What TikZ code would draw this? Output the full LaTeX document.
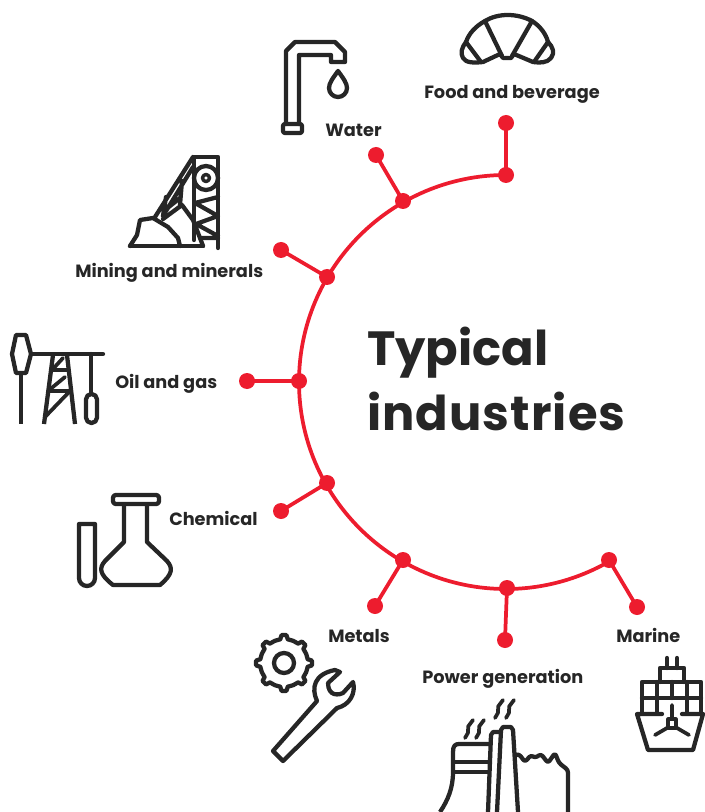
\documentclass[tikz,border=0pt]{standalone}
\usepackage{fontspec}
\setmainfont{Poppins}
\definecolor{abbred}{HTML}{ED1C2E}
\definecolor{ink}{HTML}{262626}
\tikzset{
 dot/.style={circle,fill=abbred,inner sep=0pt,minimum size=16pt*0.75},
 spoke/.style={draw=abbred,line width=2.8pt},
 icon/.style={draw=ink,line width=3.2pt,line join=round,line cap=round},
 lab/.style={anchor=base west,inner sep=0pt,text=ink,font=\fontsize{13.3pt}{15pt}\selectfont\bfseries},
 ttl/.style={anchor=base west,inner sep=0pt,text=ink,font=\fontsize{36pt}{40pt}\selectfont\bfseries},
}
\begin{document}
\begin{tikzpicture}[x=0.75pt,y=-0.75pt]
\useasboundingbox (0,0) rectangle (704,812);
% hub dots and free ends
\foreach \n/\x/\y in {a/506/175,b/403/201,c/327/277,d/299/381,e/327/483,f/403/560,g/507/588,h/609/560,
 A/506/123,B/376/155,C/281/250,D/247/381,E/281/511,F/375/606,G/505/640,H/637/607}
 {\node[dot] (\n) at (\x,\y) {};}
\draw[spoke] (a.center) arc[start angle=270,end angle=60,radius=207];
\foreach \p/\q in {a/A,b/B,c/C,d/D,e/E,f/F,g/G,h/H}{\draw[spoke] (\p.center) -- (\q.center);}
% labels
\node[lab] (food) at (424,99) {Food and beverage};
\node[lab] (water) at (325,137) {Water};
\node[lab] (mining) at (75,278) {Mining and minerals};
\node[lab] (oil) at (115,388) {Oil and gas};
\node[lab] (chem) at (169,525) {Chemical};
\node[lab] (metals) at (328,642) {Metals};
\node[lab] (power) at (422,683) {Power generation};
\node[lab] (marine) at (616,642) {Marine};
\node[ttl] (t1) at (367,365) {Typical};
\node[ttl] (t2) at (367,430) {\addfontfeature{LetterSpace=2.2}industries};
% faucet
\draw[icon] (286,124) -- (286,51) -- (295,42) -- (335,42) -- (345,52) -- (345,62) -- (331,62) -- (331,55) -- (299,55) -- (299,124);
\draw[icon,rounded corners=1.5pt] (283,124) rectangle (302,133);
\draw[icon] (338,71) .. controls (333,78) and (329,83) .. (329,88) arc[start angle=180,end angle=0,radius=9] .. controls (347,83) and (343,78) .. cycle;
% croissant
\draw[icon] (485,21) .. controls (498,13) and (517,13) .. (532,21) .. controls (540,26) and (546,34) .. (548,42) .. controls (553,47) and (555,53) .. (551,58) .. controls (547,63) and (540,63) .. (533,62) -- (514,54) -- (511,58) -- (503,58) -- (500,54) -- (483,62) .. controls (474,63) and (466,63) .. (463,58) .. controls (460,53) and (462,47) .. (466,42) .. controls (469,33) and (476,26) .. cycle;
\draw[icon] (485,21) -- (502,56) (532,21) -- (512,56) (466,42) -- (481,62) (548,42) -- (534,62);
% mine
\draw[icon] (194,240) -- (194,157) -- (218,157) -- (218,248);
\draw[icon] (206,178) circle[radius=12];
\draw[icon,line width=2.6pt] (206,178) circle[radius=3.5];
\draw[icon] (218,197) -- (195,203) -- (218,216) -- (196,224) -- (218,236) (200,238) -- (218,238);
\draw[icon] (193,157) -- (155,217) (193,167) -- (163,216) (182,181) -- (180,205) (180,198) -- (165,210) (166,197) -- (163,216);
\draw[icon] (163,219) -- (182,205) -- (193,220) -- (200,238) -- (203,246);
\draw[icon] (130,246) -- (137,235) -- (140,220) -- (153,218) -- (168,227) -- (178,238) -- (180,246);
\draw[icon] (130,246) -- (203,246);
% oil pump
\draw[icon] (16,335) -- (26,335) -- (31,354) -- (26,373) -- (16,373) -- (12,354) -- cycle;
\draw[icon,line cap=butt] (21,373) -- (21,424);
\draw[icon] (31,354) -- (103,354);
\draw[icon] (91,354) -- (91,393);
\draw[icon,line cap=butt] (53,355) -- (44,424) (67,355) -- (75,424);
\draw[icon,line width=2.8pt] (63,358) -- (52,370) -- (68,370) (65,377) -- (48,391) -- (70,391) -- (45,417);
\draw[icon,rounded corners=4pt] (86,394) rectangle (97,423);
% flask and tube
\draw[icon,rounded corners=2pt] (113,495) rectangle (159,504);
\draw[icon] (124,505) -- (124,542) -- (105,561) .. controls (99,568) and (99,574) .. (113,585) -- (160,585) .. controls (173,574) and (173,568) .. (167,561) -- (147,542) -- (147,505);
\draw[icon] (79,524) -- (95,524) -- (95,578) arc[start angle=0,end angle=180,radius=8] -- cycle;
% gear
\draw[icon] (284,663) circle[radius=10];
\draw[icon]
 \foreach \a in {0,45,...,315}{
  ([shift={(284,663)}]\a-9:24) -- ([shift={(284,663)}]\a-5:28) -- ([shift={(284,663)}]\a+5:28) -- ([shift={(284,663)}]\a+9:24)
  ([shift={(284,663)}]\a+9:24) arc[start angle=\a+9,end angle=\a+36,radius=24]
 };
% wrench
\draw[icon] (273,751) -- (317,701) .. controls (311,688) and (314,674) .. (335,670) -- (340,672) -- (328,683) .. controls (328,690) and (331,693) .. (334,694) .. controls (338,695) and (341,694) .. (343,693) -- (353,682) .. controls (356,693) and (350,705) .. (337,708) -- (283,761) -- cycle;
% power plant
\draw[icon,line cap=butt] (440,812) .. controls (448,800) and (453,788) .. (453,772) -- (453,752) .. controls (453,746) and (455,744) .. (459,744) -- (490,744);
\draw[icon,line cap=butt] (453,762) -- (490,762) (453,772) -- (490,772);
\draw[icon,line cap=butt] (488,812) -- (491,735) -- (493,732) -- (501,732);
\draw[icon,line cap=butt] (497,812) -- (501,730) -- (503,727) -- (511,727) -- (513,730) -- (518,812);
\draw[icon,rounded corners=2pt] (516,755) -- (519,754) -- (525,762) -- (531,755) -- (535,758) -- (541,754) -- (548,763) -- (555,753) -- (559,763) -- (568,770) -- (568,812);
\foreach \x/\y in {473/720,484/720,503/700,514/700}{
 \draw[icon,line width=2.8pt,rounded corners=1.5pt] (\x,\y) -- +(-6,8) -- +(-4,11) -- +(-8,18);
}
% ship
\draw[icon] (667,658) -- (667,668) (677,658) -- (677,668);
\draw[icon] (660,682) -- (660,668) -- (684,668) -- (684,682);
\draw[icon] (642,713) -- (642,682) -- (701,682) -- (701,713) (642,698) -- (701,698) (657,682) -- (657,713) (672,682) -- (672,698) (687,682) -- (687,713);
\draw[icon] (662,714) -- (637,714) -- (648,750) -- (693,750) -- (703,714) -- (682,714);
\draw[icon,line width=2.8pt] (672,705) -- (672,718) (667,728) -- (655,735) (677,728) -- (689,735);
\draw[icon,line width=2.4pt] (668,719) rectangle (676,728);
\end{tikzpicture}
\end{document}
